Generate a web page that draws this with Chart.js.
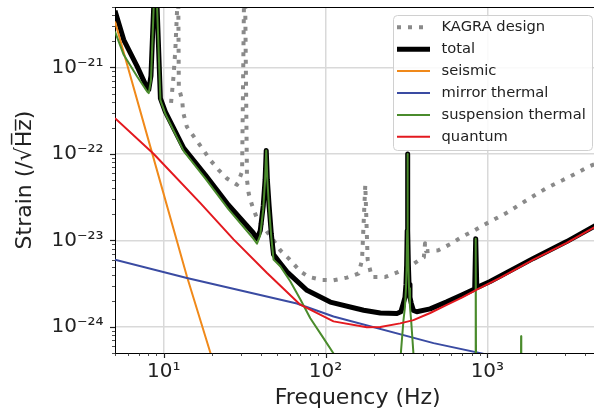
<!DOCTYPE html>
<html><head><meta charset="utf-8">
<script src="https://cdn.jsdelivr.net/npm/chart.js@4.4.1/dist/chart.umd.min.js"></script>
<style>
html,body{margin:0;padding:0;overflow:hidden;background:#fff;width:594px;height:412px}
#wrap{position:absolute;left:0;top:0;width:606px;height:412px}
</style>
</head><body><div id="wrap"><canvas id="c" width="606" height="412"></canvas></div>
<script>
// ---------- data ----------
const seriesLabels = ['KAGRA design','total','seismic','mirror thermal','suspension thermal','quantum'];

const kagraFreq = [11.1, 11.5, 11.8, 12.1, 12.25, 12.4, 13.0, 13.2, 13.9, 17.3, 19.4, 21.9, 24.6, 28.4, 30.5, 31.3, 31.5, 31.9, 32.7, 33.5, 35.1, 37.7, 47.7, 52.5, 59.1, 69.8, 78.5, 95, 112, 135.5, 160, 168, 176, 182, 193, 234, 282, 333, 393, 405, 412, 418, 498, 589, 695, 820, 944, 1318, 1835, 2326, 2931, 3562, 4203, 5000];
const kagraStrain = [3.9e-22, 7.9e-22, 1.6e-21, 4.7e-21, 2e-20, 5.8e-22, 4.2e-22, 3.0e-22, 2.06e-22, 1.16e-22, 8.5e-23, 6.5e-23, 5.2e-23, 4.4e-23, 6.24e-23, 5e-21, 5e-20, 5e-21, 5.0e-23, 3.5e-23, 2.57e-23, 1.8e-23, 1.0e-23, 7.7e-24, 6.2e-24, 4.4e-24, 3.8e-24, 3.5e-24, 3.47e-24, 3.72e-24, 4.15e-24, 5.9e-24, 4.38e-23, 6e-24, 3.79e-24, 3.79e-24, 4.33e-24, 5.04e-24, 6.2e-24, 6.4e-24, 9.3e-24, 7.5e-24, 7.7e-24, 9.06e-24, 1.1e-23, 1.29e-23, 1.5e-23, 2.09e-23, 3.09e-23, 4.04e-23, 5.0e-23, 6.0e-23, 7.1e-23, 8.1e-23];

const totalFreq = [5, 5.66, 6.85, 7.9, 8.08, 8.34, 8.67, 8.9, 9.1, 9.54, 10.24, 13.29, 18.1, 25.1, 35.8, 37.7, 39.5, 41.2, 42.3, 43.0, 43.7, 44.8, 46.2, 47.7, 52.5, 57.8, 76.8, 107, 172, 218, 276, 292, 303, 309.5, 314, 317, 319.5, 321, 322.5, 325, 328, 332.5, 338, 349, 366, 443, 561, 700, 835, 847, 860, 1040, 1923, 3090, 5000];
const totalStrain = [4.54e-21, 2.09e-21, 1.03e-21, 5.77e-22, 5.52e-22, 8e-22, 5e-21, 4e-20, 5e-21, 4.4e-22, 3.07e-22, 1.17e-22, 5.71e-23, 2.57e-23, 1.22e-23, 1.05e-23, 1.3e-23, 2.5e-23, 5e-23, 1.1e-22, 5e-23, 2.5e-23, 1.2e-23, 6.9e-24, 5.46e-24, 4.33e-24, 2.65e-24, 1.94e-24, 1.56e-24, 1.45e-24, 1.43e-24, 1.5e-24, 1.9e-24, 2.2e-24, 3.1e-24, 5.2e-24, 1.3e-23, 1.0e-22, 1.3e-23, 5.2e-24, 3.1e-24, 2.2e-24, 1.9e-24, 1.55e-24, 1.5e-24, 1.62e-24, 1.95e-24, 2.35e-24, 2.75e-24, 1.05e-23, 2.85e-24, 3.35e-24, 6.2e-24, 9.7e-24, 1.6e-23];

const seismicFreq = [5, 8.28, 13.9, 19.4, 21];
const seismicStrain = [3.4e-21, 1.2e-22, 3.86e-24, 5.07e-25, 3.2e-25];

const mirrorFreq = [5, 13.9, 66.5, 112, 465, 923, 1100];
const mirrorStrain = [6.0e-24, 3.69e-24, 1.87e-24, 1.32e-24, 6.5e-25, 4.95e-25, 4.5e-25];

const suspFreq = [5, 5.66, 6.85, 7.9, 8.08, 8.34, 8.67, 8.9, 9.1, 9.54, 10.24, 13.29, 18.1, 25.1, 35.8, 37.7, 39.5, 41.2, 42.3, 43.0, 43.7, 44.8, 46.2, 47.7, 52.5, 60.5, 69.8, 80.5, 95.5, 112, 132, 285, 292, 303, 309.5, 314, 317, 319.5, 321, 322.5, 325, 328, 332.5, 338, 349, 356, 843, 847, 851, 1612, 1616, 1620];
const suspStrain = [2.6e-21, 1.4e-21, 7.87e-22, 5.27e-22, 5.05e-22, 7.1e-22, 5e-21, 4e-20, 5e-21, 4.2e-22, 2.9e-22, 1.08e-22, 5.2e-23, 2.3e-23, 1.05e-23, 9.2e-24, 1.15e-23, 2.3e-23, 5e-23, 1.1e-22, 5e-23, 2.3e-23, 1.1e-23, 6.0e-24, 5.04e-24, 3.38e-24, 2.09e-24, 1.26e-24, 7.78e-25, 4.94e-25, 2.98e-25, 2e-25, 5e-25, 1.19e-24, 1.7e-24, 2.8e-24, 5e-24, 1.3e-23, 1.0e-22, 1.3e-23, 5e-24, 2.8e-24, 1.7e-24, 1.19e-24, 5e-25, 2e-25, 3e-25, 1.05e-23, 3e-25, 3e-25, 7.8e-25, 3e-25];

const quantumFreq = [5, 8.68, 16.85, 27.0, 43.5, 69.8, 112, 180, 218, 289, 349, 443, 561, 700, 860, 1197, 1923, 3090, 4510, 5000];
const quantumStrain = [2.59e-22, 1.0e-22, 2.7e-23, 1.03e-23, 4.2e-24, 1.81e-24, 1.16e-24, 9.95e-25, 1.0e-24, 1.1e-24, 1.2e-24, 1.45e-24, 1.8e-24, 2.2e-24, 2.7e-24, 3.7e-24, 6.0e-24, 9.4e-24, 1.4e-23, 1.55e-23];

const xTickValues = [10, 100, 1000];
const xTickLabels = ['10\u00B9', '10\u00B2', '10\u00B3'];
const yTickValues = [1e-24, 1e-23, 1e-22, 1e-21];
const yTickLabels = ['10\u207B\u00B2\u2074', '10\u207B\u00B2\u00B3', '10\u207B\u00B2\u00B2', '10\u207B\u00B2\u00B9'];

// ---------- chart ----------
const FONT = "'DejaVu Sans', 'Liberation Sans', sans-serif";
Chart.defaults.font.family = FONT;

function pts(fx, sy) { return fx.map((f, i) => ({x: f, y: sy[i]})); }
function labelFor(v, vals, labels) {
  for (let i = 0; i < vals.length; i++) {
    if (Math.abs(Math.log10(v) - Math.log10(vals[i])) < 1e-6) return labels[i];
  }
  return '';
}

const colors = ['#8a8a8a', '#000000', '#f0891a', '#3a4ba2', '#4a8b2c', '#e3191f'];
const widths = [4, 5, 2, 2, 2, 2];
const dashes = [[4, 7], [], [], [], [], []];
const allData = [
  pts(kagraFreq, kagraStrain), pts(totalFreq, totalStrain), pts(seismicFreq, seismicStrain),
  pts(mirrorFreq, mirrorStrain), pts(suspFreq, suspStrain), pts(quantumFreq, quantumStrain)
];

const datasets = allData.map((d, i) => ({
  label: seriesLabels[i], data: d, borderColor: colors[i], backgroundColor: colors[i],
  borderWidth: widths[i], borderDash: dashes[i], pointRadius: 0, fill: false,
  tension: 0, order: 6 - i, borderCapStyle: 'butt', borderJoinStyle: 'round'
}));

const framePlugin = {
  id: 'frame',
  afterDraw(chart) {
    const ctx = chart.ctx, a = chart.chartArea, xs = chart.scales.x, ys = chart.scales.y;
    ctx.save();
    ctx.strokeStyle = '#000'; ctx.lineWidth = 1;
    ctx.beginPath(); ctx.moveTo(a.left, a.top + 0.5); ctx.lineTo(a.right, a.top + 0.5); ctx.stroke();
    ctx.beginPath(); ctx.moveTo(a.right - 0.5, a.top); ctx.lineTo(a.right - 0.5, a.bottom); ctx.stroke();
    ctx.strokeStyle = '#222';
    for (let e = 0; e <= 3; e++) {
      for (let m = 1; m <= 9; m++) {
        const v = m * Math.pow(10, e);
        if (v < xs.min - 1e-9 || v > xs.max + 1e-9) continue;
        const px = Math.round(xs.getPixelForValue(v)) + 0.5;
        const len = m === 1 ? 5 : 3;
        ctx.lineWidth = m === 1 ? 1.2 : 0.8;
        ctx.beginPath(); ctx.moveTo(px, a.bottom); ctx.lineTo(px, a.bottom + len); ctx.stroke();
      }
    }
    for (let e = -25; e <= -21; e++) {
      for (let m = 1; m <= 9; m++) {
        const v = m * Math.pow(10, e);
        if (v < ys.min * 0.999 || v > ys.max * 1.001) continue;
        const py = Math.round(ys.getPixelForValue(v)) + 0.5;
        const len = m === 1 ? 5 : 3;
        ctx.lineWidth = m === 1 ? 1.2 : 0.8;
        ctx.beginPath(); ctx.moveTo(a.left, py); ctx.lineTo(a.left - len, py); ctx.stroke();
      }
    }
    ctx.restore();
  }
};

const legendPlugin = {
  id: 'boxLegend',
  afterDraw(chart) {
    const ctx = chart.ctx;
    ctx.save();
    const x0 = 393.5, y0 = 15.5, w = 199, h = 135, r = 4;
    ctx.beginPath();
    ctx.moveTo(x0 + r, y0); ctx.lineTo(x0 + w - r, y0); ctx.arcTo(x0 + w, y0, x0 + w, y0 + r, r);
    ctx.lineTo(x0 + w, y0 + h - r); ctx.arcTo(x0 + w, y0 + h, x0 + w - r, y0 + h, r);
    ctx.lineTo(x0 + r, y0 + h); ctx.arcTo(x0, y0 + h, x0, y0 + h - r, r);
    ctx.lineTo(x0, y0 + r); ctx.arcTo(x0, y0, x0 + r, y0, r); ctx.closePath();
    ctx.fillStyle = 'rgba(255,255,255,0.85)'; ctx.fill();
    ctx.strokeStyle = '#d0d0d0'; ctx.lineWidth = 1; ctx.stroke();
    ctx.font = '14.7px ' + FONT;
    ctx.textBaseline = 'middle'; ctx.textAlign = 'left';
    chart.data.datasets.forEach((ds, i) => {
      const yy = 27.3 + i * 21.9;
      ctx.strokeStyle = ds.borderColor; ctx.lineWidth = ds.borderWidth;
      ctx.setLineDash(ds.borderDash || []); ctx.lineCap = 'butt';
      ctx.beginPath(); ctx.moveTo(397, yy); ctx.lineTo(430, yy); ctx.stroke();
      ctx.setLineDash([]);
      ctx.fillStyle = '#222';
      ctx.fillText(ds.label, 441.5, yy);
    });
    ctx.restore();
  }
};

new Chart(document.getElementById('c'), {
  type: 'line',
  data: {datasets},
  plugins: [framePlugin, legendPlugin],
  options: {
    responsive: false, animation: false, devicePixelRatio: 1,
    layout: {autoPadding: false, padding: {top: 7, right: 5.5, left: 0, bottom: 0}},
    plugins: {legend: {display: false}, tooltip: {enabled: false}},
    elements: {point: {radius: 0}, line: {tension: 0}},
    scales: {
      x: {
        type: 'logarithmic', min: 5, max: 5000, position: 'bottom',
        afterBuildTicks: s => { s.ticks = xTickValues.map(v => ({value: v})); },
        afterFit: s => { s.height = 59; s.paddingLeft = 0; s.paddingRight = 0; s.paddingTop = 0; s.paddingBottom = 0; },
        ticks: {callback: v => labelFor(v, xTickValues, xTickLabels), font: {family: FONT, size: 20, lineHeight: 1.2}, color: '#222', padding: 7, maxRotation: 0, autoSkip: false},
        grid: {color: '#d9d9d9', lineWidth: 1.5, drawTicks: false},
        border: {display: true, color: '#000', width: 1},
        title: {display: true, text: 'Frequency (Hz)', font: {family: FONT, size: 22, lineHeight: 1}, color: '#222', padding: {top: 0, bottom: 3}}
      },
      y: {
        type: 'logarithmic', min: 5e-25, max: 5e-21, position: 'left',
        afterBuildTicks: s => { s.ticks = yTickValues.map(v => ({value: v})); },
        afterFit: s => { s.width = 115; s.paddingTop = 0; s.paddingBottom = 0; s.paddingLeft = 0; s.paddingRight = 0; },
        ticks: {callback: v => labelFor(v, yTickValues, yTickLabels), font: {family: FONT, size: 20, lineHeight: 1.2}, color: '#222', padding: 11.5, autoSkip: false},
        grid: {color: '#d9d9d9', lineWidth: 1.5, drawTicks: false},
        border: {display: true, color: '#000', width: 1},
        title: {display: true, text: 'Strain (/\u221AH\u0305z\u0305)', font: {family: FONT, size: 22, lineHeight: 1}, color: '#222', padding: {top: 14, bottom: 0}}
      }
    }
  }
});
</script>
</body></html>
